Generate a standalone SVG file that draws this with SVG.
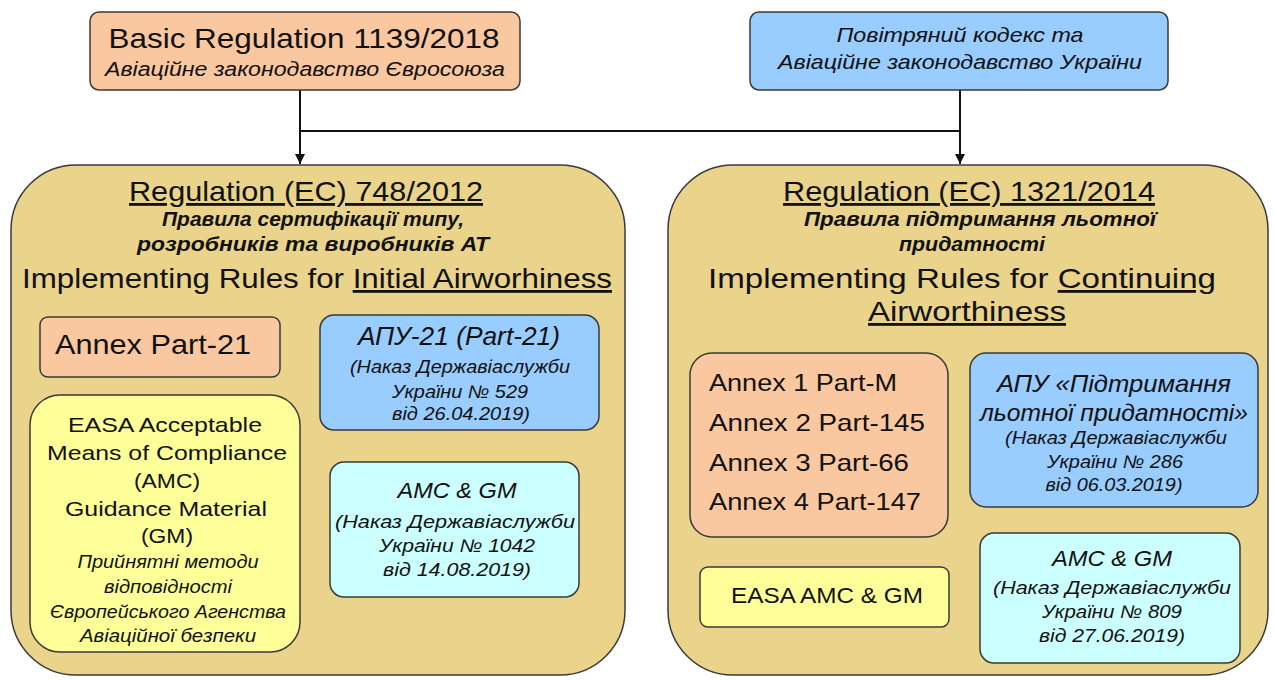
<svg xmlns="http://www.w3.org/2000/svg" width="1274" height="680" viewBox="0 0 1274 680">
<style>
text{font-family:"Liberation Sans",Arial,sans-serif;fill:#111;}
.box{stroke:#3a3a3a;stroke-width:1.5;}
.org{fill:#fac8a0;}
.blu{fill:#99ccff;}
.tan{fill:#ead38b;}
.yel{fill:#ffff99;}
.cya{fill:#ccffff;}
.c{text-anchor:middle;}
.i{font-style:italic;}
.bi{font-style:italic;font-weight:bold;}
.u{text-decoration:underline;}
.conn{stroke:#111;stroke-width:2;fill:none;}
</style>
<defs>
<marker id="arr" viewBox="0 0 10 10" refX="10" refY="5" markerWidth="5" markerHeight="5" orient="auto" markerUnits="strokeWidth">
<path d="M0,0 L10,5 L0,10 z" fill="#111"/>
</marker>
</defs>
<rect width="1274" height="680" fill="#ffffff"/>

<g id="connectors">
<line class="conn" x1="300" y1="90" x2="300" y2="164" marker-end="url(#arr)"/>
<line class="conn" x1="300" y1="131" x2="960" y2="131"/>
<line class="conn" x1="960" y1="90" x2="960" y2="164" marker-end="url(#arr)"/>
</g>

<g id="basic-regulation">
<rect class="box org" x="90" y="12" width="430" height="78" rx="9"/>
<text class="c" x="304" y="48" font-size="28" textLength="391" lengthAdjust="spacingAndGlyphs">Basic  Regulation 1139/2018</text>
<text class="c i" x="305" y="76" font-size="20" textLength="400" lengthAdjust="spacingAndGlyphs">Авіаційне законодавство Євросоюза</text>
</g>

<g id="ukraine-code">
<rect class="box blu" x="750" y="12" width="418" height="78" rx="9"/>
<text class="c i" x="960" y="42" font-size="21" textLength="247" lengthAdjust="spacingAndGlyphs">Повітряний кодекс та</text>
<text class="c i" x="960" y="69" font-size="21" textLength="364" lengthAdjust="spacingAndGlyphs">Авіаційне законодавство України</text>
</g>

<g id="reg-748">
<rect class="box tan" x="11" y="165" width="614" height="510" rx="65"/>
<text class="c u" x="306" y="201" font-size="28" textLength="354" lengthAdjust="spacingAndGlyphs">Regulation (EC) 748/2012</text>
<text class="c bi" x="313" y="226" font-size="20" textLength="302" lengthAdjust="spacingAndGlyphs">Правила сертифікації типу,</text>
<text class="c bi" x="313" y="251" font-size="20" textLength="352" lengthAdjust="spacingAndGlyphs">розробників та виробників АТ</text>
<text class="c" x="317" y="288" font-size="28" textLength="590" lengthAdjust="spacingAndGlyphs">Implementing Rules for <tspan class="u">Initial Airworhiness</tspan></text>
</g>

<g id="annex-part21">
<rect class="box org" x="40" y="317" width="240" height="60" rx="8"/>
<text x="55" y="354" font-size="28" textLength="196" lengthAdjust="spacingAndGlyphs">Annex  Part-21</text>
</g>

<g id="apu-21">
<rect class="box blu" x="320" y="315" width="279" height="115" rx="14"/>
<text class="c i" x="459" y="345" font-size="25" textLength="202" lengthAdjust="spacingAndGlyphs">АПУ-21 (Part-21)</text>
<text class="c i" x="460" y="373" font-size="18" textLength="220" lengthAdjust="spacingAndGlyphs">(Наказ Державіаслужби</text>
<text class="c i" x="460" y="398" font-size="18" textLength="136" lengthAdjust="spacingAndGlyphs">України № 529</text>
<text class="c i" x="461" y="420" font-size="18" textLength="138" lengthAdjust="spacingAndGlyphs">від 26.04.2019)</text>
</g>

<g id="easa-amc-gm-left">
<rect class="box yel" x="30" y="395" width="270" height="257" rx="30"/>
<text class="c" x="165" y="432" font-size="21" textLength="194" lengthAdjust="spacingAndGlyphs">EASA Acceptable</text>
<text class="c" x="167" y="460" font-size="21" textLength="240" lengthAdjust="spacingAndGlyphs">Means of Compliance</text>
<text class="c" x="167" y="488" font-size="21" textLength="66" lengthAdjust="spacingAndGlyphs">(AMC)</text>
<text class="c" x="166" y="516" font-size="21" textLength="202" lengthAdjust="spacingAndGlyphs">Guidance  Material</text>
<text class="c" x="167" y="543" font-size="21" textLength="52" lengthAdjust="spacingAndGlyphs">(GM)</text>
<text class="c i" x="168" y="568" font-size="18" textLength="181" lengthAdjust="spacingAndGlyphs">Прийнятні методи</text>
<text class="c i" x="168" y="593" font-size="18" textLength="128" lengthAdjust="spacingAndGlyphs">відповідності</text>
<text class="c i" x="168" y="618" font-size="18" textLength="236" lengthAdjust="spacingAndGlyphs">Європейського Агенства</text>
<text class="c i" x="168" y="642" font-size="18" textLength="176" lengthAdjust="spacingAndGlyphs">Авіаційної безпеки</text>
</g>

<g id="amc-gm-1042">
<rect class="box cya" x="330" y="462" width="249" height="135" rx="14"/>
<text class="c i" x="457" y="498" font-size="22" textLength="119" lengthAdjust="spacingAndGlyphs">AMC &amp; GM</text>
<text class="c i" x="455" y="528" font-size="18" textLength="240" lengthAdjust="spacingAndGlyphs">(Наказ Державіаслужби</text>
<text class="c i" x="457" y="552" font-size="18" textLength="156" lengthAdjust="spacingAndGlyphs">України № 1042</text>
<text class="c i" x="457" y="576" font-size="18" textLength="148" lengthAdjust="spacingAndGlyphs">від 14.08.2019)</text>
</g>

<g id="reg-1321">
<rect class="box tan" x="668" y="165" width="600" height="510" rx="65"/>
<text class="c u" x="969" y="201" font-size="28" textLength="372" lengthAdjust="spacingAndGlyphs">Regulation (EC) 1321/2014</text>
<text class="c bi" x="980" y="226" font-size="20" textLength="352" lengthAdjust="spacingAndGlyphs">Правила підтримання льотної</text>
<text class="c bi" x="972" y="251" font-size="20" textLength="146" lengthAdjust="spacingAndGlyphs">придатності</text>
<text class="c" x="962" y="288" font-size="28" textLength="508" lengthAdjust="spacingAndGlyphs">Implementing Rules for <tspan class="u">Continuing</tspan></text>
<text class="c u" x="967" y="321" font-size="28" textLength="198" lengthAdjust="spacingAndGlyphs">Airworthiness</text>
</g>

<g id="annexes-1-4">
<rect class="box org" x="690" y="353" width="258" height="184" rx="22"/>
<text x="709" y="391" font-size="24" textLength="188" lengthAdjust="spacingAndGlyphs">Annex 1  Part-M</text>
<text x="709" y="431" font-size="24" textLength="216" lengthAdjust="spacingAndGlyphs">Annex 2  Part-145</text>
<text x="709" y="471" font-size="24" textLength="200" lengthAdjust="spacingAndGlyphs">Annex 3  Part-66</text>
<text x="709" y="510" font-size="24" textLength="212" lengthAdjust="spacingAndGlyphs">Annex 4  Part-147</text>
</g>

<g id="apu-continuing">
<rect class="box blu" x="970" y="353" width="288" height="154" rx="16"/>
<text class="c i" x="1114" y="392" font-size="24" textLength="234" lengthAdjust="spacingAndGlyphs">АПУ «Підтримання</text>
<text class="c i" x="1114" y="421" font-size="24" textLength="268" lengthAdjust="spacingAndGlyphs">льотної придатності»</text>
<text class="c i" x="1116" y="444" font-size="18" textLength="222" lengthAdjust="spacingAndGlyphs">(Наказ Державіаслужби</text>
<text class="c i" x="1115" y="468" font-size="18" textLength="136" lengthAdjust="spacingAndGlyphs">України № 286</text>
<text class="c i" x="1114" y="491" font-size="18" textLength="137" lengthAdjust="spacingAndGlyphs">від 06.03.2019)</text>
</g>

<g id="easa-amc-gm-right">
<rect class="box yel" x="700" y="567" width="249" height="60" rx="8"/>
<text class="c" x="827" y="603" font-size="22" textLength="192" lengthAdjust="spacingAndGlyphs">EASA AMC &amp; GM</text>
</g>

<g id="amc-gm-809">
<rect class="box cya" x="980" y="533" width="260" height="130" rx="14"/>
<text class="c i" x="1112" y="566" font-size="22" textLength="120" lengthAdjust="spacingAndGlyphs">AMC &amp; GM</text>
<text class="c i" x="1112" y="594" font-size="18" textLength="238" lengthAdjust="spacingAndGlyphs">(Наказ Державіаслужби</text>
<text class="c i" x="1112" y="618" font-size="18" textLength="140" lengthAdjust="spacingAndGlyphs">України № 809</text>
<text class="c i" x="1112" y="642" font-size="18" textLength="146" lengthAdjust="spacingAndGlyphs">від 27.06.2019)</text>
</g>
</svg>
